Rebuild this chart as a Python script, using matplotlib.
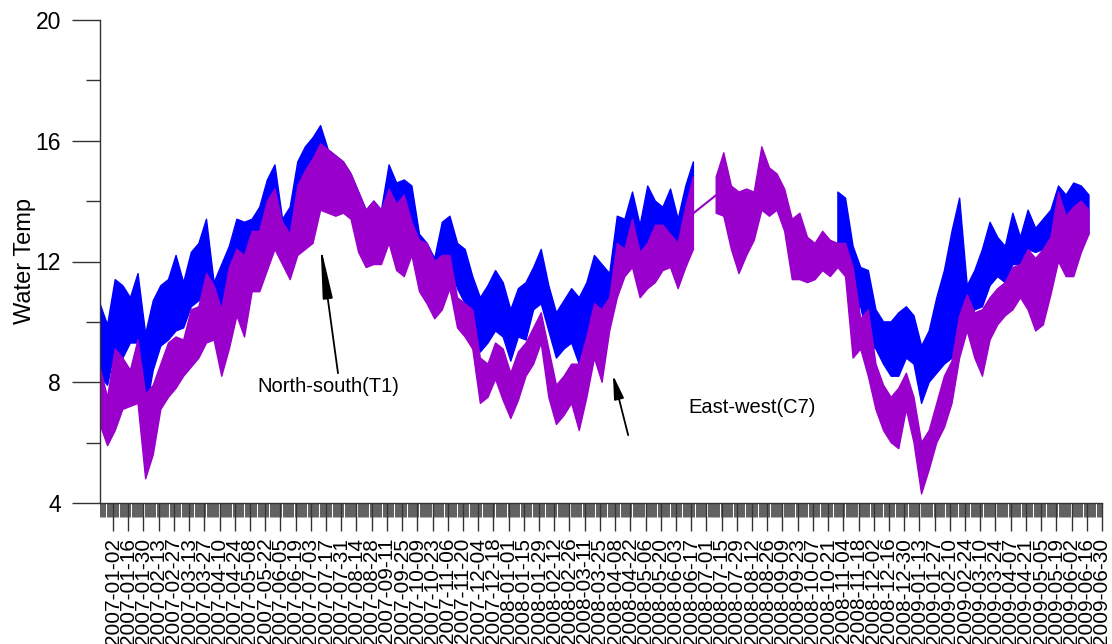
import numpy as np
import pandas as pd
import matplotlib
matplotlib.use('Agg')
import matplotlib.pyplot as plt
import matplotlib.dates as mdates

plt.rcParams['font.family'] = 'Liberation Sans'

nan = np.nan

# weekly min / max of the logged water temperature, first week starting 2006-12-21
weeks = pd.date_range('2006-12-21', periods=131, freq='7D')

# North-south logger (T1)
t1_hi = np.array([
    10.6, 9.9, 11.4, 11.2, 10.8, 11.6, 9.6, 10.7, 11.2, 11.4,
    12.2, 11.3, 12.3, 12.6, 13.4, 11.3, 11.9, 12.5, 13.4, 13.3,
    13.4, 13.8, 14.7, 15.2, 13.4, 13.8, 15.3, 15.8, 16.1, 16.5,
    15.7, 15.5, 15.3, 14.9, 14.3, 13.7, 14.0, 13.7, 15.2, 14.6,
    14.7, 14.5, 12.9, 12.6, 12.1, 13.3, 13.5, 12.6, 12.4, 11.5,
    10.8, 11.2, 11.7, 11.3, 10.4, 11.1, 11.3, 11.8, 12.4, 11.2,
    10.3, 10.7, 11.1, 10.8, 11.3, 12.2, 11.9, 11.6, 13.5, 13.4,
    14.3, 13.2, 14.5, 14.0, 13.8, 14.4, 13.4, 14.5, 15.3, nan,
    nan, nan, nan, nan, nan, nan, nan, nan, nan, nan,
    nan, nan, nan, nan, nan, nan, nan, 14.3, 14.1, 12.5,
    11.8, 11.7, 10.4, 10.0, 10.0, 10.3, 10.5, 10.2, 9.2, 9.7,
    10.8, 11.7, 13.0, 14.1, 11.2, 11.7, 12.4, 13.3, 12.8, 12.5,
    13.6, 12.8, 13.7, 13.1, 13.4, 13.7, 14.5, 14.2, 14.6, 14.5,
    14.2])
t1_lo = np.array([
    8.2, 7.9, 9.1, 8.8, 9.3, 9.3, 7.0, 8.4, 9.2, 9.4,
    9.7, 9.8, 10.5, 10.7, 10.8, 10.4, 10.2, 10.8, 11.5, 11.7,
    12.0, 12.4, 12.8, 13.0, 12.3, 12.4, 13.4, 13.5, 13.8, 14.2,
    14.0, 14.0, 14.0, 13.8, 13.0, 12.5, 12.6, 12.6, 13.2, 12.8,
    12.8, 12.6, 11.8, 11.5, 11.0, 11.8, 11.9, 11.1, 10.6, 9.3,
    9.0, 9.3, 9.7, 9.5, 8.7, 9.5, 9.4, 10.4, 10.6, 9.7,
    8.8, 9.1, 9.3, 8.6, 9.3, 10.4, 10.2, 10.6, 11.8, 12.0,
    12.5, 11.8, 12.2, 12.4, 12.4, 12.3, 12.0, 13.0, 13.5, nan,
    nan, nan, nan, nan, nan, nan, nan, nan, nan, nan,
    nan, nan, nan, nan, nan, nan, nan, 12.2, 12.3, 10.4,
    10.5, 9.3, 9.1, 8.6, 8.2, 8.2, 8.8, 8.6, 7.3, 8.0,
    8.3, 8.6, 8.8, 9.4, 10.0, 10.4, 10.5, 11.2, 11.5, 11.3,
    11.9, 11.9, 12.4, 12.3, 12.4, 12.8, 13.0, 12.8, 13.0, 13.0,
    12.9])

# East-west logger (C7)
c7_hi = np.array([
    8.5, 7.5, 9.1, 8.8, 8.4, 9.4, 7.6, 7.9, 8.6, 9.3,
    9.5, 9.4, 10.4, 10.5, 11.6, 11.2, 10.4, 11.8, 12.4, 12.2,
    13.0, 13.0, 14.0, 14.4, 13.3, 12.9, 14.5, 15.0, 15.4, 15.9,
    15.7, 15.5, 15.3, 14.9, 14.3, 13.7, 14.0, 13.7, 14.4, 13.9,
    14.2, 13.3, 12.7, 12.6, 12.0, 12.2, 12.2, 10.8, 10.6, 10.4,
    8.8, 8.6, 9.3, 9.1, 8.3, 9.0, 9.3, 9.8, 10.3, 9.1,
    7.9, 8.2, 8.6, 8.6, 9.5, 10.6, 10.4, 10.8, 12.6, 12.4,
    13.4, 12.3, 12.6, 13.2, 13.2, 12.9, 12.6, 13.8, 14.8, nan,
    nan, 14.8, 15.6, 14.5, 14.3, 14.4, 14.3, 15.8, 15.1, 14.9,
    14.4, 13.4, 13.6, 12.8, 12.6, 13.0, 12.7, 12.6, 12.6, 11.8,
    10.1, 10.4, 8.6, 7.9, 7.5, 7.8, 8.3, 7.5, 6.0, 6.4,
    7.3, 8.2, 8.7, 10.2, 10.9, 10.3, 10.4, 10.8, 11.1, 11.3,
    11.8, 11.9, 12.4, 12.1, 12.4, 12.8, 14.3, 13.5, 13.8, 14.0,
    13.7])
c7_lo = np.array([
    6.6, 5.9, 6.4, 7.1, 7.2, 7.3, 4.8, 5.6, 7.1, 7.5,
    7.8, 8.2, 8.5, 8.8, 9.3, 9.4, 8.2, 9.1, 10.2, 9.5,
    11.0, 11.0, 11.7, 12.4, 11.9, 11.4, 12.2, 12.4, 12.6, 13.7,
    13.6, 13.5, 13.6, 13.4, 12.3, 11.8, 11.9, 11.9, 12.6, 11.7,
    11.5, 12.2, 11.0, 10.6, 10.1, 10.4, 11.1, 9.8, 9.5, 9.1,
    7.3, 7.5, 8.1, 7.4, 6.8, 7.4, 8.2, 8.6, 9.3, 7.5,
    6.6, 6.9, 7.3, 6.4, 7.5, 8.8, 8.0, 9.7, 10.8, 11.5,
    11.8, 10.8, 11.1, 11.3, 11.7, 11.8, 11.1, 11.8, 12.4, nan,
    nan, 13.6, 13.5, 12.4, 11.6, 12.2, 12.7, 13.7, 13.5, 13.7,
    13.0, 11.4, 11.4, 11.3, 11.4, 11.7, 11.5, 11.8, 11.5, 8.8,
    9.1, 8.2, 7.1, 6.4, 6.0, 5.8, 7.1, 6.0, 4.3, 5.1,
    6.0, 6.5, 7.3, 8.8, 9.7, 8.8, 8.2, 9.4, 9.9, 10.2,
    10.4, 10.8, 10.4, 9.7, 9.9, 10.9, 12.0, 11.5, 11.5, 12.3,
    12.9])

t1_color = '#0000ff'
c7_color = '#9900cc'

fig = plt.figure(figsize=(11.12, 6.44), dpi=100)
ax = fig.add_axes([100 / 1112, 1 - 503 / 644, 1002 / 1112, 483 / 644])

ax.fill_between(weeks, t1_lo, t1_hi, color=t1_color, lw=1.0)
ax.fill_between(weeks, c7_lo, c7_hi, color=c7_color, lw=1.0)

# C7 has a hole in mid 2008, the series is just joined straight across it
gap = [78, 81]
ax.plot(weeks[gap], (c7_lo[gap] + c7_hi[gap]) / 2, color=c7_color, lw=1.5)

# axes
ax.set_ylim(4, 20)
ax.set_yticks([4, 8, 12, 16, 20])
ax.set_yticks([6, 10, 14, 18], minor=True)
ax.set_xlim(pd.Timestamp('2006-12-21'), pd.Timestamp('2009-06-30'))

major = pd.date_range('2007-01-02', '2009-06-30', freq='14D')
ax.set_xticks(mdates.date2num(major))
ax.set_xticklabels([d.strftime('%Y-%m-%d') for d in major], rotation=90)
ax.xaxis.set_minor_locator(mdates.DayLocator())

ax.spines['top'].set_visible(False)
ax.spines['right'].set_visible(False)
for side in ['left', 'bottom']:
    ax.spines[side].set_color('#333333')
    ax.spines[side].set_linewidth(1.0)

ax.tick_params(axis='y', which='major', length=20, width=1, color='#333333',
               labelsize=16.5, pad=8)
ax.tick_params(axis='y', which='minor', length=10, width=1, color='#333333')
ax.tick_params(axis='x', which='major', length=20, width=1, color='#333333',
               labelsize=15, pad=5)
ax.tick_params(axis='x', which='minor', length=10, width=0.6, color='#444444')

ax.set_ylabel('Water Temp', fontsize=17)
ax.yaxis.set_label_coords(-0.064, 0.5)


def pointer(head_length):
    # arrow head is about a third of the shaft
    return dict(arrowstyle='-|>,head_length=%.2f,head_width=0.3' % head_length,
                mutation_scale=10, color='black', lw=1.3, shrinkA=0, shrinkB=0)


# labels for the two loggers
ax.annotate('', xy=(mdates.date2num(pd.Timestamp('2007-07-12')), 12.5),
            xytext=(mdates.date2num(pd.Timestamp('2007-07-28')), 8.3),
            arrowprops=pointer(3.1))
ax.text(mdates.date2num(pd.Timestamp('2007-05-15')), 7.85, 'North-south(T1)',
        fontsize=14.5, va='center')

ax.annotate('', xy=(mdates.date2num(pd.Timestamp('2008-04-06')), 8.24),
            xytext=(mdates.date2num(pd.Timestamp('2008-04-20')), 6.25),
            arrowprops=pointer(1.45))
ax.text(mdates.date2num(pd.Timestamp('2008-06-14')), 7.15, 'East-west(C7)',
        fontsize=14.5, va='center')

plt.savefig('out.png', dpi=100)
